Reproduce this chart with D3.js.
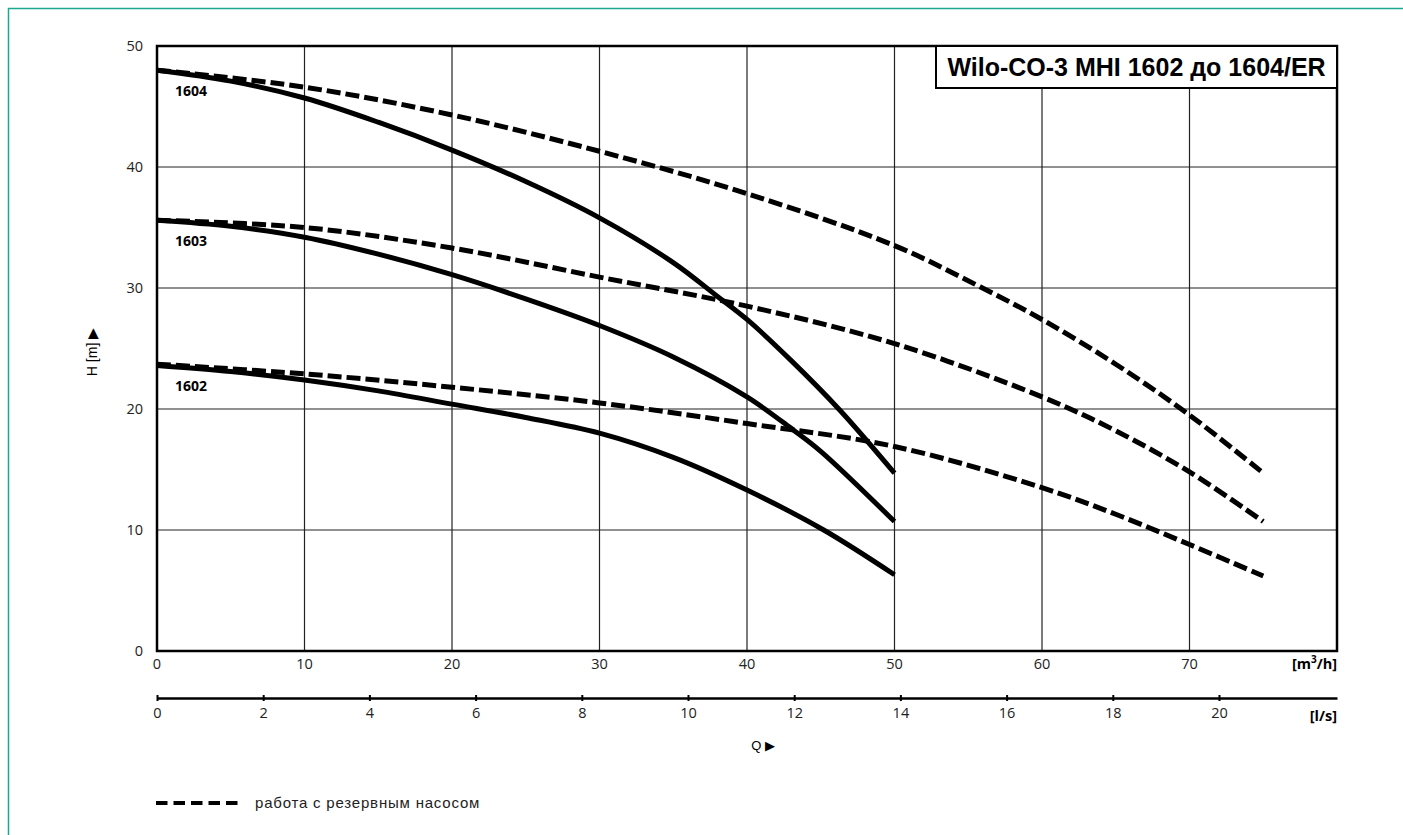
<!DOCTYPE html>
<html>
<head>
<meta charset="utf-8">
<script src="https://cdn.jsdelivr.net/npm/d3@7"></script>
<style>
  body { margin: 0; background: #fff; }
  svg { display: block; }
</style>
</head>
<body>
<svg id="chart" width="1403" height="835"></svg>
<script>
// pump curves, Q in m3/h, H in m
var solid1604 = [[0,48],[5,47.1],[10,45.7],[15,43.7],[20,41.4],[25,38.8],[30,35.8],[35,32.1],[38,29.3],[40,27.4],[43,24.0],[46.3,19.9],[50,14.7]];
var solid1603 = [[0,35.6],[5,35.1],[10,34.2],[15,32.8],[20,31.1],[25,29.1],[30,26.9],[35,24.3],[40,21.0],[43.1,18.3],[45,16.5],[50,10.7]];
var solid1602 = [[0,23.6],[5,23.1],[10,22.4],[15,21.5],[20,20.4],[25,19.3],[30,18.0],[35,16.0],[40,13.3],[45.2,10.0],[50,6.3]];
var dash1604 = [[0,48],[10,46.6],[20,44.3],[30,41.3],[40,37.8],[50,33.5],[55.8,30.1],[60,27.4],[65,23.7],[70,19.5],[75,14.7]];
var dash1603 = [[0,35.6],[10,35.0],[20,33.3],[30,30.9],[40,28.5],[50,25.4],[60,21.0],[65,18.2],[70,14.8],[75,10.7]];
var dash1602 = [[0,23.7],[10,22.9],[20,21.8],[30,20.5],[40,18.8],[50,16.9],[60,13.5],[65,11.3],[70,8.8],[75,6.2]];

var curveLabels = [["1604",48],["1603",35.6],["1602",23.6]];
var qTicks = [0,10,20,30,40,50,60,70];
var hTicks = [0,10,20,30,40,50];
var lsTicks = [0,2,4,6,8,10,12,14,16,18,20];

var title = "Wilo-CO-3 MHI 1602 до 1604/ER";
var legendText = "работа с резервным насосом";

var svg = d3.select("#chart");
var plotLeft = 157, plotRight = 1337, plotTop = 46, plotBottom = 651;
var tickFont = "'Open Sans', sans-serif";
var textFont = "'Liberation Sans', Arial, sans-serif";

// outer teal frame
svg.append("rect")
  .attr("x", 8.5).attr("y", 8.5)
  .attr("width", 1420).attr("height", 900)
  .attr("fill", "none").attr("stroke", "#1aa88e").attr("stroke-width", 1.5);

var x = d3.scaleLinear().domain([0, 80]).range([plotLeft, plotRight]);
var y = d3.scaleLinear().domain([0, 50]).range([plotBottom, plotTop]);
var xl = d3.scaleLinear().domain([0, 80 / 3.6]).range([plotLeft, plotRight]);

// grid
svg.append("g").selectAll("line").data(qTicks.slice(1)).enter().append("line")
  .attr("x1", function (d) { return x(d); }).attr("x2", function (d) { return x(d); })
  .attr("y1", plotTop).attr("y2", plotBottom)
  .attr("stroke", "#222").attr("stroke-width", 1.2);
svg.append("g").selectAll("line").data(hTicks.slice(1)).enter().append("line")
  .attr("x1", plotLeft).attr("x2", plotRight)
  .attr("y1", function (d) { return y(d); }).attr("y2", function (d) { return y(d); })
  .attr("stroke", "#222").attr("stroke-width", 1.2);

// plot frame
svg.append("rect")
  .attr("x", plotLeft).attr("y", plotTop)
  .attr("width", plotRight - plotLeft).attr("height", plotBottom - plotTop)
  .attr("fill", "none").attr("stroke", "#000").attr("stroke-width", 2.5);

// y tick labels
svg.append("g").selectAll("text").data(hTicks).enter().append("text")
  .attr("x", 143).attr("y", function (d) { return y(d); })
  .attr("dy", "0.35em").attr("text-anchor", "end")
  .style("font-family", tickFont).style("font-size", "14.5px").attr("fill", "#222")
  .text(function (d) { return d; });

// x tick labels (m3/h)
svg.append("g").selectAll("text").data(qTicks).enter().append("text")
  .attr("x", function (d) { return x(d); }).attr("y", 669)
  .attr("text-anchor", "middle")
  .style("font-family", tickFont).style("font-size", "14.5px").attr("fill", "#222")
  .text(function (d) { return d; });

var unitQ = svg.append("text")
  .attr("x", plotRight).attr("y", 669).attr("text-anchor", "end")
  .style("font-family", tickFont).style("font-size", "14.5px").style("font-weight", "bold");
unitQ.append("tspan").text("[m");
unitQ.append("tspan").attr("dy", -6).style("font-size", "10px").text("3");
unitQ.append("tspan").attr("dy", 6).text("/h]");

// second axis l/s
var lsAxis = d3.axisBottom(xl).tickValues(lsTicks).tickSize(3).tickSizeOuter(0).tickPadding(7);
var gls = svg.append("g").attr("transform", "translate(0,698)").call(lsAxis);
gls.select(".domain").attr("stroke-width", 2.5);
gls.selectAll(".tick line").attr("stroke-width", 2).attr("y1", -3);
gls.selectAll(".tick text")
  .style("font-family", tickFont).style("font-size", "14.5px").attr("fill", "#222");
svg.append("text")
  .attr("x", plotRight).attr("y", 721).attr("text-anchor", "end")
  .style("font-family", tickFont).style("font-size", "14.5px").style("font-weight", "bold")
  .text("[l/s]");

// axis titles
svg.append("text")
  .attr("transform", "translate(97,352) rotate(-90)")
  .attr("text-anchor", "middle")
  .style("font-family", textFont).style("font-size", "14px")
  .text("H [m] ▶");
svg.append("text")
  .attr("x", 763).attr("y", 750).attr("text-anchor", "middle")
  .style("font-family", textFont).style("font-size", "13px")
  .text("Q ▶");

// curves
var line = d3.line()
  .x(function (d) { return x(d[0]); })
  .y(function (d) { return y(d[1]); })
  .curve(d3.curveCatmullRom.alpha(0.5));

[dash1604, dash1603, dash1602].forEach(function (s) {
  svg.append("path").datum(s).attr("d", line)
    .attr("fill", "none").attr("stroke", "#000").attr("stroke-width", 5)
    .attr("stroke-dasharray", "14,5");
});
[solid1604, solid1603, solid1602].forEach(function (s) {
  svg.append("path").datum(s).attr("d", line)
    .attr("fill", "none").attr("stroke", "#000").attr("stroke-width", 5);
});

svg.append("g").selectAll("text").data(curveLabels).enter().append("text")
  .attr("x", 175).attr("y", function (d) { return y(d[1]) + 26; })
  .style("font-family", tickFont).style("font-size", "14px").style("font-weight", "bold")
  .text(function (d) { return d[0]; });

// title box
svg.append("rect")
  .attr("x", 936).attr("y", 46).attr("width", plotRight - 936).attr("height", 42)
  .attr("fill", "#fff").attr("stroke", "#000").attr("stroke-width", 2);
svg.append("text")
  .attr("x", (936 + plotRight) / 2).attr("y", 76).attr("text-anchor", "middle")
  .style("font-family", textFont).style("font-size", "25px").style("font-weight", "bold")
  .text(title);

// legend
svg.append("line")
  .attr("x1", 156).attr("x2", 238).attr("y1", 803).attr("y2", 803)
  .attr("stroke", "#000").attr("stroke-width", 4).attr("stroke-dasharray", "11.5,6");
svg.append("text")
  .attr("x", 255).attr("y", 808)
  .style("font-family", textFont).style("font-size", "15px").style("letter-spacing", "0.8px")
  .attr("fill", "#222")
  .text(legendText);
</script>
</body>
</html>
